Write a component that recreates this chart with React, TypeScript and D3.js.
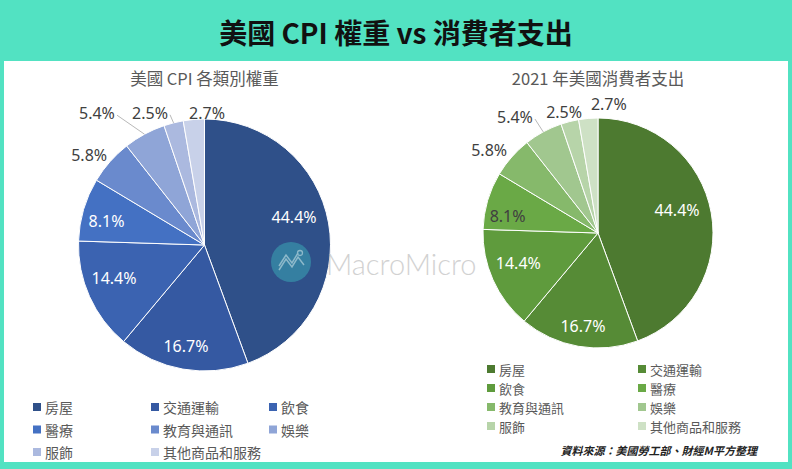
import React from "react";
import * as d3 from "d3";

// ---- data ----
const categories = ["房屋", "交通運輸", "飲食", "醫療", "教育與通訊", "娛樂", "服飾", "其他商品和服務"];
const cpiWeights = [44.4, 16.7, 14.4, 8.1, 5.8, 5.4, 2.5, 2.7];
const spending2021 = [44.4, 16.7, 14.4, 8.1, 5.8, 5.4, 2.5, 2.7];
const mainTitle = "美國 CPI 權重 vs 消費者支出";
const leftTitle = "美國 CPI 各類別權重";
const rightTitle = "2021 年美國消費者支出";
const sourceNote = "資料來源：美國勞工部、財經M平方整理";

// ---- styles / layout ----
const W = 792;
const H = 469;
const TEAL = "#52e2c2";
const blues = ["#2f5089", "#3559a2", "#3b63b1", "#4471c3", "#6a8acd", "#8fa5d7", "#abb9df", "#c8d1e9"];
const greens = ["#4d7a30", "#568b36", "#5f9b3d", "#6aa946", "#86b96b", "#a1c78f", "#b7d4a9", "#cee1c5"];
// label placement: [angle deg clockwise from top, radius factor, leader line]
const leftLabelLayout: [number, number, boolean][] = [
  [72.6, 0.745, false], [190.4, 0.815, false], [250, 0.764, false], [283.7, 0.8, false],
  [307.9, 1.16, false], [320.8, 1.35, true], [337.6, 1.135, true], [1.1, 1.05, false],
];
const rightLabelLayout: [number, number, boolean][] = [
  [73.8, 0.716, false], [189.2, 0.82, false], [249.4, 0.74, false], [280.7, 0.8, false],
  [307.3, 1.19, false], [324.4, 1.24, true], [344.3, 1.09, false], [4.8, 1.13, false],
];

const FONT = "'Noto Sans', 'Noto Sans CJK TC', sans-serif";
const CJK = "'Noto Sans CJK TC', 'Noto Sans', sans-serif";

function luminance(hex: string) {
  const c = d3.rgb(hex);
  const f = (v: number) => {
    const s = v / 255;
    return s <= 0.03928 ? s / 12.92 : Math.pow((s + 0.055) / 1.055, 2.4);
  };
  return 0.2126 * f(c.r) + 0.7152 * f(c.g) + 0.0722 * f(c.b);
}

type PieProps = {
  cx: number;
  cy: number;
  r: number;
  values: number[];
  colors: string[];
  layout: [number, number, boolean][];
  title: string;
  titleY: number;
};

function Pie({ cx, cy, r, values, colors, layout, title, titleY }: PieProps) {
  const pie = d3.pie<number>().sort(null).value((d) => d)(values);
  const arc = d3.arc<d3.PieArcDatum<number>>().innerRadius(0).outerRadius(r);
  const toRad = Math.PI / 180;
  return (
    <g>
      <text x={cx} y={titleY} textAnchor="middle" dominantBaseline="central" fontFamily={CJK} fontSize={16.5} fill="#595959">
        {title}
      </text>
      <g transform={`translate(${cx},${cy})`}>
        {pie.map((p, i) => (
          <path key={i} d={arc(p) || ""} fill={colors[i]} stroke="#ffffff" strokeWidth={1} />
        ))}
      </g>
      {pie.map((p, i) => {
        const [a, rf, leader] = layout[i];
        const lx = cx + rf * r * Math.sin(a * toRad);
        const ly = cy - rf * r * Math.cos(a * toRad);
        const inside = rf < 1;
        const fill = inside && luminance(colors[i]) < 0.29 ? "#ffffff" : "#404040";
        const mid = (p.startAngle + p.endAngle) / 2;
        const ex = cx + r * Math.sin(mid);
        const ey = cy - r * Math.cos(mid);
        return (
          <g key={"l" + i}>
            {leader && (
              <path d={`M${lx + 20},${ly + 2}L${ex},${ey}`} stroke="#a6a6a6" strokeWidth={0.8} fill="none" />
            )}
            <text x={lx} y={ly} textAnchor="middle" dominantBaseline="central" fontFamily={FONT} fontSize={16} fill={fill}>
              {values[i].toFixed(1) + "%"}
            </text>
          </g>
        );
      })}
    </g>
  );
}

type LegendProps = { x0: number; y0: number; colStep: number; rowStep: number; cols: number; colors: string[]; fontSize: number };

function Legend({ x0, y0, colStep, rowStep, cols, colors, fontSize }: LegendProps) {
  return (
    <g>
      {categories.map((c, i) => {
        const col = i % cols;
        const row = Math.floor(i / cols);
        const x = x0 + col * colStep;
        const y = y0 + row * rowStep;
        return (
          <g key={c}>
            <rect x={x} y={y - 4} width={8} height={8} fill={colors[i]} />
            <text x={x + 12} y={y} dominantBaseline="central" fontFamily={CJK} fontSize={fontSize} fill="#595959">
              {c}
            </text>
          </g>
        );
      })}
    </g>
  );
}

export default function App() {
  return (
    <svg width={W} height={H} style={{ position: "fixed", left: 0, top: 0 }} xmlns="http://www.w3.org/2000/svg">
      <rect x={0} y={0} width={W} height={H} fill={TEAL} />
      <rect x={4} y={61} width={784} height={401} fill="#ffffff" />
      <text x={396} y={32} textAnchor="middle" dominantBaseline="central" fontFamily={CJK} fontWeight={700} fontSize={28} fill="#111111">
        {mainTitle}
      </text>

      <Pie cx={204.5} cy={245} r={126} values={cpiWeights} colors={blues} layout={leftLabelLayout} title={leftTitle} titleY={78} />
      <Pie cx={598} cy={233} r={115} values={spending2021} colors={greens} layout={rightLabelLayout} title={rightTitle} titleY={78} />

      <Legend x0={33} y0={407} colStep={118} rowStep={22.5} cols={3} colors={blues} fontSize={14} />
      <Legend x0={487} y0={369} colStep={151} rowStep={19} cols={2} colors={greens} fontSize={13} />

      <text x={757} y={450} textAnchor="end" dominantBaseline="central" fontFamily={CJK} fontWeight={700} fontStyle="italic" fontSize={11} fill="#222222">
        {sourceNote}
      </text>

      {/* watermark */}
      <g>
        <circle cx={291} cy={262} r={20} fill="#3aa6b4" opacity={0.55} />
        <g opacity={0.5}>
          <path d="M279,270 L286,259 L292,267 L298,257 L304,265" stroke="#e4f3f4" strokeWidth={1.5} fill="none" />
          <path d="M279,266 L286,255 L292,263 L298,253" stroke="#e4f3f4" strokeWidth={1.5} fill="none" />
          <circle cx={300} cy={253} r={2.5} stroke="#e4f3f4" strokeWidth={1.3} fill="none" />
        </g>
        <text x={326} y={263} dominantBaseline="central" fontFamily="Lato, 'Noto Sans', sans-serif" fontWeight={300} fontSize={29} fill="#b4b4b4" opacity={0.6}>
          MacroMicro
        </text>
      </g>
    </svg>
  );
}
